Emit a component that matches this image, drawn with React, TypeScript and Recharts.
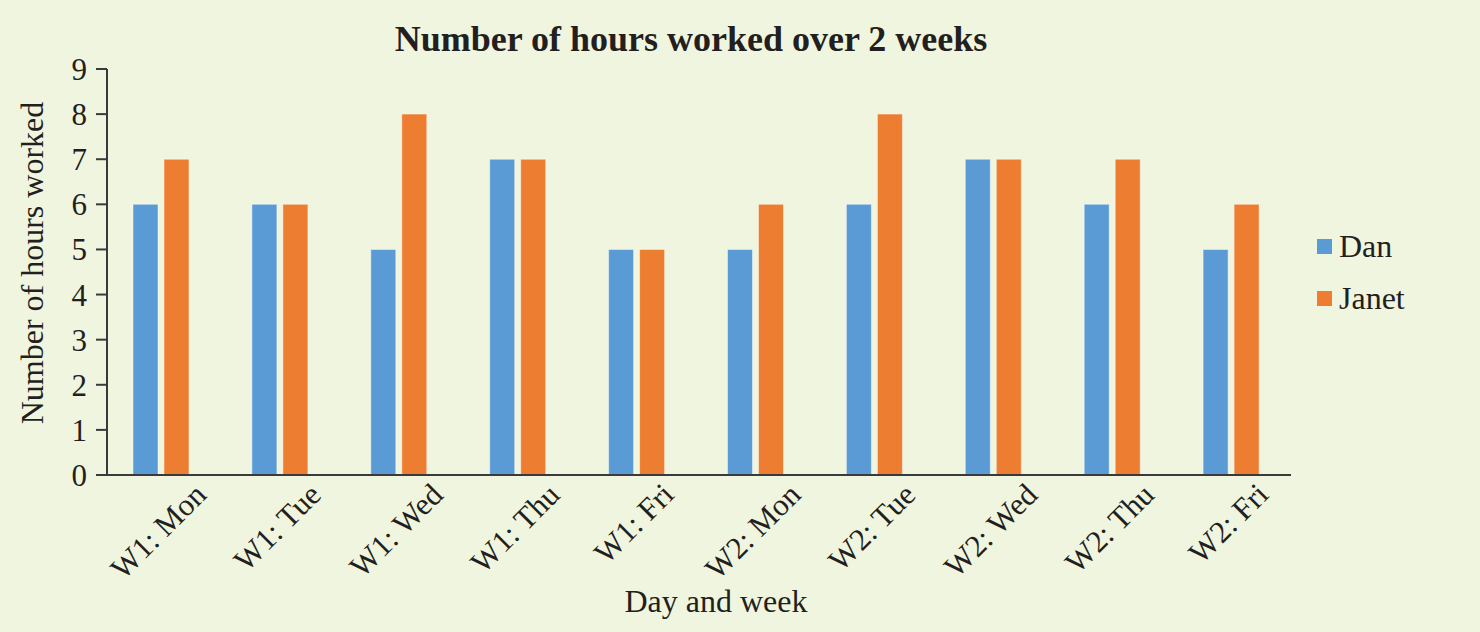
import React from 'react';
import { BarChart, Bar, XAxis, YAxis, Legend, Label } from 'recharts';

const days = ['W1: Mon', 'W1: Tue', 'W1: Wed', 'W1: Thu', 'W1: Fri', 'W2: Mon', 'W2: Tue', 'W2: Wed', 'W2: Thu', 'W2: Fri'];
const danHours = [6, 6, 5, 7, 5, 5, 6, 7, 6, 5];
const janetHours = [7, 6, 8, 7, 5, 6, 8, 7, 7, 6];
const hourTicks = [0, 1, 2, 3, 4, 5, 6, 7, 8, 9];

const data = days.map((day, i) => ({ day, Dan: danHours[i], Janet: janetHours[i] }));

const FONT = "'Liberation Serif', 'Times New Roman', Times, serif";
const INK = '#231f20';
const AXIS = '#3a3a3a';
const BG = '#f0f5df';
const DAN = '#5b9bd5';
const JANET = '#ed7d31';
const SIZE = 31;
const LABEL_SIZE = 32;

let ctx: CanvasRenderingContext2D | null = null;
const measure = (s: string) => {
  if (!ctx) ctx = document.createElement('canvas').getContext('2d');
  if (!ctx) return s.length * SIZE * 0.5;
  ctx.font = `${SIZE}px ${FONT}`;
  return ctx.measureText(s).width;
};

// excel style: rotated label centred under the group, top flush
const DayTick = (props: any) => {
  const { x, y, payload } = props;
  const w = measure(payload.value);
  const cx = x - 3;
  const cy = y + 7 + 0.7071 * (w / 2 + SIZE * 0.33);
  return (
    <text
      x={cx}
      y={cy}
      dy="0.33em"
      textAnchor="middle"
      transform={`rotate(-45 ${cx} ${cy})`}
      fill={INK}
      fontSize={SIZE}
      fontFamily={FONT}
    >
      {payload.value}
    </text>
  );
};

const KeyBox = (props: any) => (
  <div style={{ fontFamily: FONT, fontSize: LABEL_SIZE, color: INK }}>
    {(props.payload || []).map((p: any) => (
      <div key={p.value} style={{ display: 'flex', alignItems: 'center', height: 52, lineHeight: `${LABEL_SIZE}px` }}>
        <span style={{ display: 'inline-block', width: 15, height: 15, background: p.color, marginRight: 7 }} />
        <span>{p.value}</span>
      </div>
    ))}
  </div>
);

const App = () => {
  return (
    <div style={{ position: 'absolute', left: 0, top: 0, width: 1480, height: 632, background: BG }}>
      <BarChart
        width={1480}
        height={632}
        data={data}
        margin={{ top: 69, right: 189, bottom: 0, left: 0 }}
        barSize={25}
        barGap={6}
      >
        <XAxis
          dataKey="day"
          height={157}
          padding={{ left: -5, right: 0 }}
          tickLine={false}
          tickSize={0}
          tickMargin={0}
          interval={0}
          axisLine={{ stroke: AXIS, strokeWidth: 2 }}
          tick={<DayTick />}
        >
          <Label
            content={() => (
              <text x={716} y={612} textAnchor="middle" fill={INK} fontSize={LABEL_SIZE} fontFamily={FONT}>
                Day and week
              </text>
            )}
          />
        </XAxis>
        <YAxis
          width={107}
          domain={[0, 9]}
          ticks={hourTicks}
          interval={0}
          tickSize={11}
          tickMargin={9}
          axisLine={{ stroke: AXIS, strokeWidth: 2 }}
          tickLine={{ stroke: AXIS, strokeWidth: 2 }}
          tick={{ fill: INK, fontSize: SIZE, fontFamily: FONT }}
        >
          <Label
            content={(p: any) => {
              const vb = p.viewBox || { y: 69, height: 406 };
              const cy = vb.y + vb.height / 2 - 9;
              return (
                <text x={43} y={cy} transform={`rotate(-90 43 ${cy})`} textAnchor="middle" fill={INK} fontSize={LABEL_SIZE} fontFamily={FONT}>
                  Number of hours worked
                </text>
              );
            }}
          />
          <Label
            content={() => (
              <text x={691} y={51} textAnchor="middle" fill={INK} fontSize={36} fontWeight="bold" fontFamily={FONT}>
                Number of hours worked over 2 weeks
              </text>
            )}
          />
        </YAxis>
        <Legend
          layout="vertical"
          align="center"
          verticalAlign="middle"
          wrapperStyle={{ left: 1317, top: 220, width: 160 }}
          content={<KeyBox />}
        />
        <Bar dataKey="Dan" fill={DAN} stroke="#ffffff" strokeOpacity={0.45} strokeWidth={1} isAnimationActive={false} />
        <Bar dataKey="Janet" fill={JANET} stroke="#ffffff" strokeOpacity={0.45} strokeWidth={1} isAnimationActive={false} />
      </BarChart>
    </div>
  );
};

export default App;
